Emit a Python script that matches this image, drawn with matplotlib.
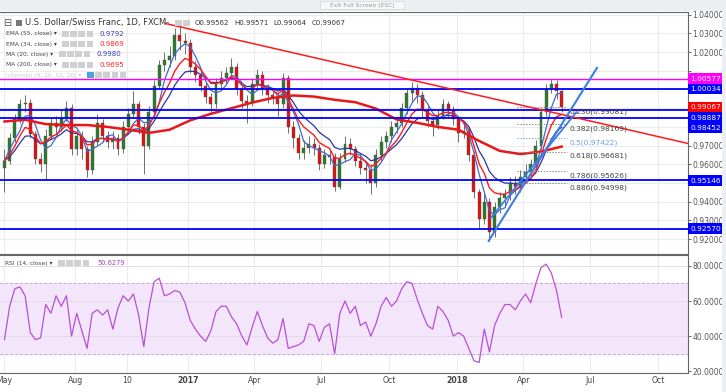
import matplotlib
matplotlib.use("Agg")
import matplotlib.pyplot as plt
import matplotlib.dates as mdates
from matplotlib.patches import Rectangle
import numpy as np
import pandas as pd

W, H = 726, 392

# weekly candles (USD/CHF, May 2016 - May 2018)
first_week = "2016-04-27"
first_open = 0.958
closes = [0.962, 0.974, 0.984, 0.992, 0.993, 0.976, 0.963, 0.960, 0.975, 0.982,
          0.980, 0.985, 0.990, 0.968, 0.975, 0.968, 0.957, 0.972, 0.982, 0.975,
          0.972, 0.974, 0.968, 0.980, 0.987, 0.992, 0.980, 0.970, 0.988, 1.002,
          1.013, 1.016, 1.018, 1.029, 1.026, 1.025, 1.012, 1.008, 1.002, 0.996,
          0.992, 1.003, 1.006, 1.009, 1.012, 1.000, 0.994, 0.993, 1.003, 1.008,
          1.000, 0.997, 0.996, 0.992, 1.006, 0.980, 0.974, 0.966, 0.969, 0.971,
          0.969, 0.960, 0.965, 0.964, 0.948, 0.963, 0.971, 0.968, 0.962, 0.958,
          0.957, 0.950, 0.965, 0.972, 0.975, 0.980, 0.982, 0.990, 0.998, 1.001,
          0.997, 0.989, 0.983, 0.981, 0.986, 0.992, 0.989, 0.984, 0.977, 0.978,
          0.965, 0.945, 0.931, 0.940, 0.924, 0.937, 0.942, 0.944, 0.950, 0.948,
          0.953, 0.956, 0.960, 0.970, 0.988, 1.000, 1.003, 0.999, 0.99067]
highs = [0.968, 0.977, 0.987, 0.995, 0.997, 0.995, 0.978, 0.966, 0.979, 0.985,
         0.986, 0.989, 0.994, 0.992, 0.979, 0.978, 0.970, 0.975, 0.987, 0.984,
         0.978, 0.978, 0.976, 0.983, 0.990, 0.999, 0.994, 0.982, 0.991, 1.005,
         1.016, 1.020, 1.023, 1.033, 1.034, 1.030, 1.027, 1.015, 1.011, 1.004,
         0.998, 1.006, 1.010, 1.012, 1.017, 1.014, 1.002, 0.997, 1.006, 1.011,
         1.010, 1.003, 1.000, 0.998, 1.009, 1.008, 0.983, 0.976, 0.973, 0.975,
         0.974, 0.971, 0.968, 0.968, 0.966, 0.966, 0.975, 0.974, 0.970, 0.966,
         0.961, 0.960, 0.968, 0.975, 0.978, 0.983, 0.986, 0.993, 1.000, 1.004,
         1.003, 0.999, 0.991, 0.986, 0.989, 0.995, 0.994, 0.991, 0.986, 0.982,
         0.980, 0.967, 0.947, 0.944, 0.942, 0.940, 0.945, 0.947, 0.953, 0.954,
         0.957, 0.960, 0.963, 0.973, 0.990, 1.003, 1.0058, 1.005, 0.9995]
lows = [0.945, 0.960, 0.972, 0.982, 0.988, 0.974, 0.960, 0.956, 0.952, 0.973,
        0.976, 0.978, 0.983, 0.965, 0.965, 0.963, 0.953, 0.955, 0.970, 0.972,
        0.969, 0.968, 0.965, 0.966, 0.978, 0.985, 0.976, 0.955, 0.968, 0.986,
        1.000, 1.010, 1.012, 1.016, 1.021, 1.019, 1.009, 1.004, 0.999, 0.993,
        0.988, 0.990, 1.000, 1.003, 1.006, 0.997, 0.990, 0.982, 0.991, 1.000,
        0.997, 0.993, 0.992, 0.986, 0.990, 0.977, 0.969, 0.963, 0.963, 0.966,
        0.965, 0.957, 0.958, 0.960, 0.946, 0.947, 0.961, 0.965, 0.959, 0.955,
        0.950, 0.944, 0.948, 0.962, 0.969, 0.972, 0.977, 0.980, 0.987, 0.994,
        0.993, 0.985, 0.980, 0.975, 0.979, 0.984, 0.985, 0.981, 0.972, 0.974,
        0.962, 0.942, 0.926, 0.928, 0.919, 0.921, 0.934, 0.938, 0.941, 0.944,
        0.945, 0.950, 0.953, 0.958, 0.968, 0.986, 0.998, 0.995, 0.9880]

# MA(200) read every 4th week
ma200_values = [0.9829, 0.9838, 0.9815, 0.9810, 0.9810, 0.9800, 0.9785, 0.9768,
                0.9785, 0.9835, 0.9870, 0.9900, 0.9930, 0.9955, 0.9968, 0.9962,
                0.9945, 0.9932, 0.9898, 0.9840, 0.9822, 0.9800, 0.9785, 0.9725,
                0.9672, 0.9655, 0.9668, 0.9695]

rsi_values = [38, 57, 67, 68, 63, 42, 38, 39, 58, 53,
              63, 57, 63, 40, 53, 43, 33, 53, 55, 52,
              55, 44, 56, 63, 60, 64, 52, 34, 56, 71,
              73, 63, 64, 66, 65, 59, 49, 44, 40, 37,
              43, 54, 57, 57, 51, 47, 40, 35, 45, 54,
              46, 39, 36, 38, 50, 33, 34, 35, 37, 47,
              46, 37, 45, 47, 30, 53, 60, 53, 57, 46,
              48, 40, 47, 57, 62, 57, 60, 67, 71, 70,
              61, 53, 46, 44, 57, 54, 49, 40, 42, 40,
              33, 26, 25, 44, 31, 46, 53, 58, 58, 55,
              60, 64, 59, 70, 79, 81, 76, 66, 50.63]

level_lines = [1.00577, 1.00034, 0.98887, 0.98452, 0.95146, 0.92570]
level_colors = ["#ff00ff", "#0000ff", "#0000ff", "#0000ff", "#0000ff", "#0000ff"]
price_labels = [1.00577, 1.00034, 0.99067, 0.98887, 0.98452, 0.95146, 0.92570]
label_colors = ["#ff00ff", "#0000ff", "#ff0000", "#0000ff", "#0000ff", "#0000ff", "#0000ff"]

fib_ratios = ["0.236", "0.382", "0.5", "0.618", "0.786", "0.886"]
fib_prices = [0.99081, 0.98169, 0.97422, 0.96681, 0.95626, 0.94998]
fib_dates = ["2018-03-23", "2018-05-30"]

down_trend_dates = ["2016-12-01", "2018-11-10"]
down_trend_prices = [1.0353, 0.9712]
up_trend1_dates = ["2018-02-13", "2018-07-10"]
up_trend1_prices = [0.9191, 1.0116]
up_trend2_dates = ["2018-02-16", "2018-06-12"]
up_trend2_prices = [0.9314, 0.9879]

tick_dates = ["2016-04-27", "2016-08-01", "2016-10-10", "2017-01-01", "2017-04-01",
              "2017-07-01", "2017-10-01", "2018-01-01", "2018-04-01", "2018-07-01",
              "2018-10-01"]
tick_labels = ["May", "Aug", "10", "2017", "Apr", "Jul", "Oct", "2018", "Apr", "Jul", "Oct"]

legend_names = ["EMA (55, close)", "EMA (34, close)", "MA (20, close)", "MA (200, close)"]
legend_values = ["0.9792", "0.9869", "0.9980", "0.9695"]
ohlc_text = ["O0.99562", "H0.99571", "L0.99064", "C0.99067"]

# ---- derived series ----
dates = pd.date_range(first_week, periods=len(closes), freq="7D")
xd = mdates.date2num(dates)
c = np.array(closes)
o = np.array([first_open] + closes[:-1])
s = pd.Series(c)
ema55 = s.ewm(span=11, adjust=False).mean()
ema34 = s.ewm(span=7, adjust=False).mean()
ma20 = s.rolling(4, min_periods=1).mean()
ma200_x = xd[::4]

# ---- figure ----
fig = plt.figure(figsize=(W / 100, H / 100), dpi=100)
fig.patch.set_facecolor("white")


def frac_x(px):
    return px / W


def frac_y(py):
    return 1 - py / H


ax = fig.add_axes([0, frac_y(254), 688 / W, (254 - 12) / H])
ax2 = fig.add_axes([0, frac_y(373), 688 / W, (373 - 255) / H], sharex=ax)

base = mdates.date2num(pd.Timestamp("2017-01-01"))
ax.set_xlim(base + (0 - 188) / 0.737, base + (688 - 188) / 0.737)
ax.set_ylim(0.9121, 1.0414)
ax2.set_ylim(19.0, 86.2)

grid_c = "#ececec"
tick_x = mdates.date2num(pd.to_datetime(tick_dates))
for a in (ax, ax2):
    for t in tick_x:
        a.axvline(t, color=grid_c, lw=0.8, zorder=0)
    a.spines["left"].set_visible(False)
    for sp in ("top", "right", "bottom"):
        a.spines[sp].set_color("#666666")
        a.spines[sp].set_linewidth(0.8)
    a.yaxis.tick_right()
    a.tick_params(axis="y", labelsize=5.5, colors="#555555", length=2, width=0.6, pad=1)

# main pane grid
yt = np.arange(0.92, 1.0401, 0.01)
ax.set_yticks(yt)
for v in yt:
    ax.axhline(v, color=grid_c, lw=0.8, zorder=0)

# candles
up = c >= o
body_lo = np.minimum(o, c)
body_h = np.maximum(np.abs(c - o), 0.0004)
ax.vlines(xd, lows, highs, color="#6f6f6f", lw=0.7, zorder=2)
ax.bar(xd, body_h, bottom=body_lo, width=4.0,
       color=np.where(up, "#2a7a2a", "#e01010"), edgecolor="#555555", linewidth=0.3, zorder=2.5)

# moving averages
ax.plot(xd, ema55, color="#2a35a8", lw=0.9, zorder=3)
ax.plot(xd, ma20, color="#4169d0", lw=0.9, zorder=3)
ax.plot(xd, ema34, color="#ff1a1a", lw=1.0, zorder=3)
ax.plot(ma200_x, ma200_values, color="#e81818", lw=1.8, zorder=3)

# horizontal levels
for lv, col in zip(level_lines, level_colors):
    ax.axhline(lv, color=col, lw=1.3 if col == "#0000ff" else 1.0, zorder=4)

# trend lines
ax.plot(mdates.date2num(pd.to_datetime(down_trend_dates)), down_trend_prices,
        color="#ff1a1a", lw=1.1, zorder=5)
ax.plot(mdates.date2num(pd.to_datetime(up_trend1_dates)), up_trend1_prices,
        color="#3d7ee0", lw=1.5, zorder=5)
ax.plot(mdates.date2num(pd.to_datetime(up_trend2_dates)), up_trend2_prices,
        color="#3d7ee0", lw=1.3, zorder=5)

# fibonacci retracement
fx = mdates.date2num(pd.to_datetime(fib_dates))
for r, p in zip(fib_ratios, fib_prices):
    col = "#7ea9ea" if r == "0.5" else "#8a8a8a"
    ax.plot(fx, [p, p], color=col, lw=0.7, ls=(0, (1.5, 1.5)), zorder=4)
    ax.annotate("%s(%.5f)" % (r, p), (fx[1], p), xytext=(2, -1), textcoords="offset points",
                fontsize=5.4, color="#6f9fe6" if r == "0.5" else "#444444",
                va="top", ha="left", zorder=6)

# right price labels, stacked so they do not collide
box_y = []
prev = -100
for p in price_labels:
    ytop = H - ax.transData.transform((ax.get_xlim()[0], p))[1]
    ytop = max(ytop, prev + 10.5)
    prev = ytop
    box_y.append(ytop)
for p, col, ytop in zip(price_labels, label_colors, box_y):
    fig.patches.append(Rectangle((frac_x(688), frac_y(ytop + 5.3)), 34 / W, 10.6 / H,
                                 transform=fig.transFigure, fc=col, ec="none", zorder=5))
    fig.text(frac_x(690.5), frac_y(ytop + 0.3), "%.5f" % p, color="white", fontsize=5.3,
             va="center", ha="left", zorder=6)

# axis tick labels hidden behind the price boxes
ylabels = []
for v in yt:
    py = H - ax.transData.transform((ax.get_xlim()[0], v))[1]
    covered = any(abs(py - b) < 8 for b in box_y)
    ylabels.append("" if covered else "%.5f" % v)
ax.set_yticklabels(ylabels)

# RSI pane
ax2.axhspan(30, 70, color="#f3e6fb", zorder=0)
for v in (30, 70):
    ax2.axhline(v, color="#c3aed3", lw=0.7, ls=(0, (3, 2)), zorder=1)
for v in (40, 60, 80):
    ax2.axhline(v, color="#e3dbe8", lw=0.7, zorder=0.5)
ax2.plot(xd, rsi_values, color="#b84fd6", lw=0.9, zorder=3)
ax2.set_yticks([20, 40, 60, 80])
ax2.set_yticklabels(["%.4f" % v for v in (20, 40, 60, 80)])
ax2.set_xticks(tick_x)
ax2.set_xticklabels(tick_labels)
for lbl in ax2.get_xticklabels():
    if lbl.get_text() in ("2017", "2018"):
        lbl.set_fontweight("bold")
ax2.tick_params(axis="x", labelsize=5.6, colors="#444444", length=0, pad=2.5)
ax.tick_params(axis="x", labelbottom=False, length=0)

# top toolbar strip
fig.patches.append(Rectangle((0, frac_y(11)), 1, 11 / H, transform=fig.transFigure,
                             fc="#eceef1", ec="none", zorder=0))
fig.patches.append(Rectangle((frac_x(320), frac_y(9)), 84 / W, 8 / H, transform=fig.transFigure,
                             fc="#f6f7f8", ec="#d6d8db", lw=0.5, zorder=1))
fig.text(frac_x(362), frac_y(5), "Exit Full Screen (ESC)", fontsize=4.3, color="#9a9a9a",
         ha="center", va="center")
fig.patches.append(Rectangle((frac_x(722), 0), 4 / W, 1, transform=fig.transFigure,
                             fc="#eceef1", ec="none", zorder=0))


def icons(x0, y, n, first="#d0d0d0"):
    for k in range(n):
        fig.patches.append(Rectangle((frac_x(x0 + k * 8.2), frac_y(y + 3)), 6.5 / W, 6 / H,
                                     transform=fig.transFigure,
                                     fc=first if k == 0 else "#d0d0d0", ec="none", zorder=6))


# header legend
fig.text(frac_x(3), frac_y(23), "\u229f", fontsize=7, color="#555555", va="center")
fig.patches.append(Rectangle((frac_x(16), frac_y(26)), 6 / W, 6 / H, transform=fig.transFigure,
                             fc="#777777", ec="none", zorder=6))
fig.text(frac_x(25), frac_y(23), "U.S. Dollar/Swiss Franc, 1D, FXCM", fontsize=6.0,
         color="#333333", va="center")
fig.text(frac_x(166), frac_y(23), "\u25be", fontsize=4.5, color="#888888", va="center")
icons(175, 23, 2)
for k, t in enumerate(ohlc_text):
    fig.text(frac_x(195 + k * 39), frac_y(23), t, fontsize=5.0, color="#333333", va="center")

row_y = [34, 44.3, 54.3, 64.7]
val_colors = ["#3b3bb8", "#ff2020", "#3b3bb8", "#ff2020"]
for k, (nm, vl) in enumerate(zip(legend_names, legend_values)):
    fig.text(frac_x(6), frac_y(row_y[k]), nm + " \u25be", fontsize=4.2, color="#444444", va="center")
    icons(62 if k != 2 else 59, row_y[k], 4)
    fig.text(frac_x(100 if k != 2 else 97), frac_y(row_y[k]), vl, fontsize=5.0,
             color=val_colors[k], va="center")
fig.text(frac_x(6), frac_y(75), "Ichimoku (9, 26, 52, 26) \u25be", fontsize=4.2,
         color="#cccccc", va="center")
icons(87, 75, 5, first="#4aa3df")

# RSI legend
fig.text(frac_x(5), frac_y(263), "RSI (14, close) \u25be", fontsize=4.2, color="#444444", va="center")
icons(58, 263, 4)
fig.text(frac_x(97), frac_y(263), "50.6279", fontsize=4.8, color="#a040c0", va="center")

fig.savefig("out.png", dpi=100)
